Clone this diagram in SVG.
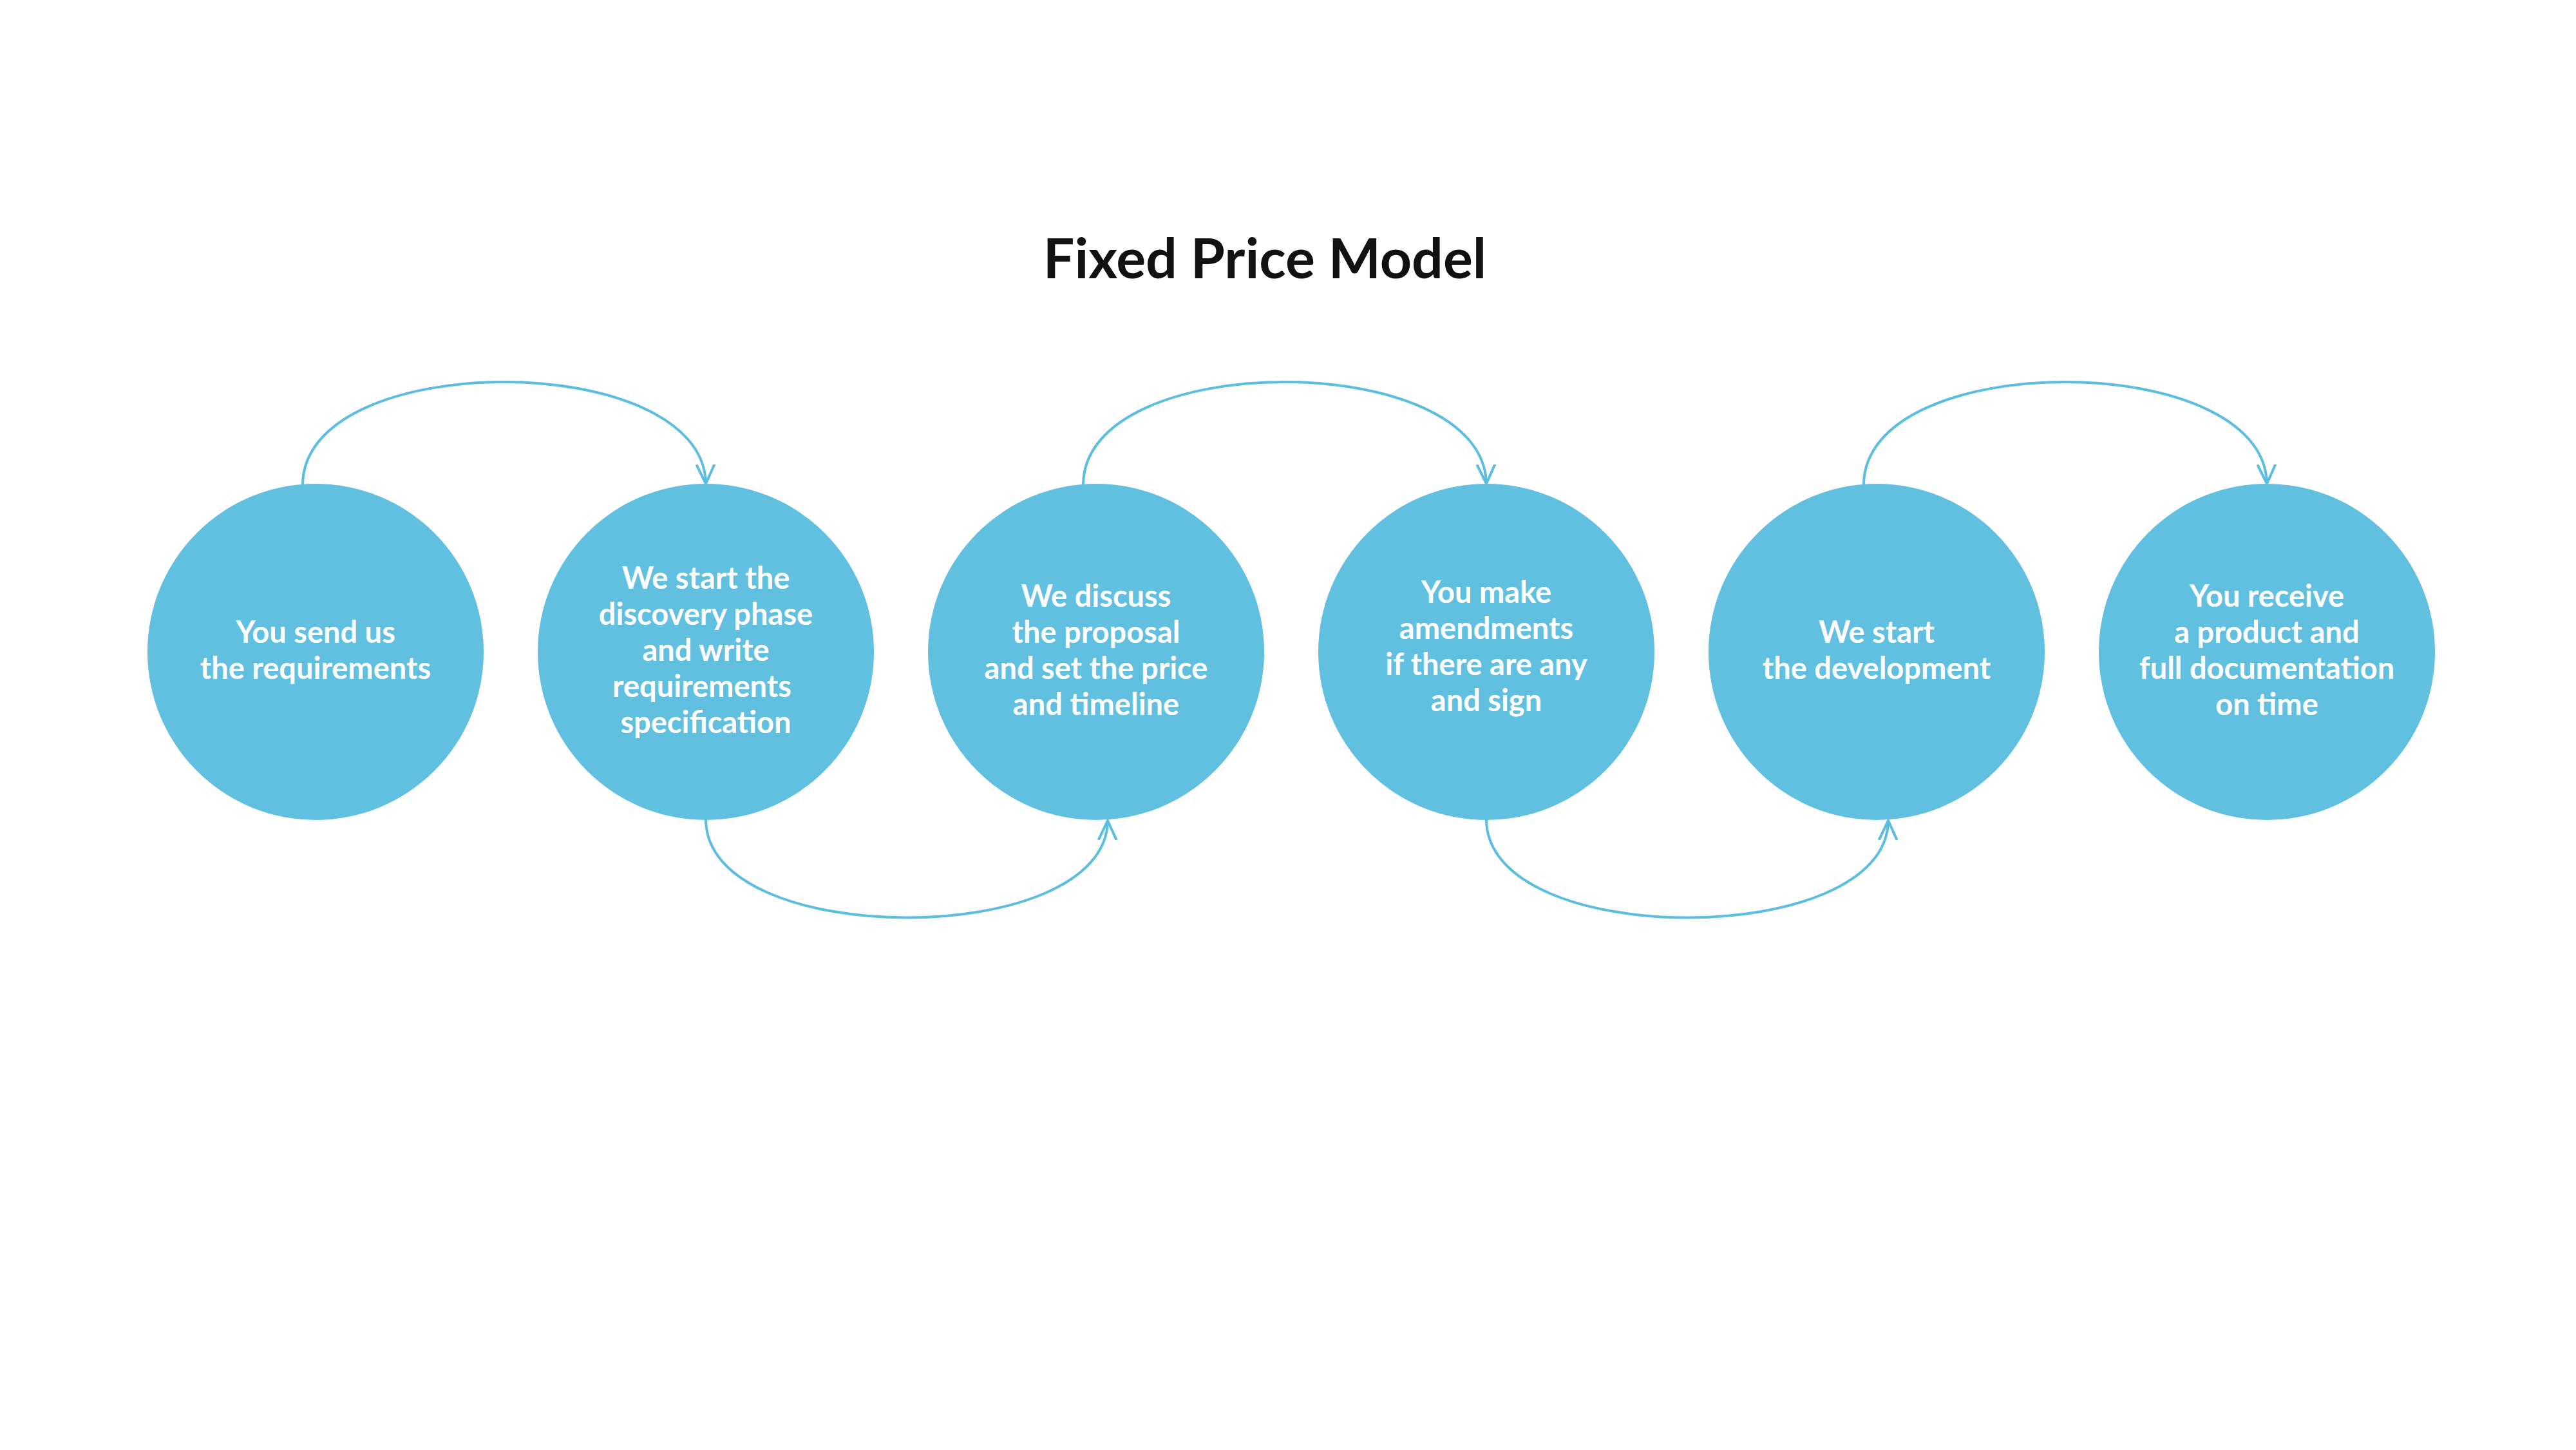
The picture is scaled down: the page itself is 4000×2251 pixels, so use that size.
<svg xmlns="http://www.w3.org/2000/svg" width="4000" height="2251" viewBox="0 0 4000 2251">
<style>
.c{fill:#61c0e0}
.t{fill:#fff;font-family:Lato,"Noto Sans",sans-serif;font-weight:700;font-size:47px;text-anchor:middle}
.a{fill:none;stroke:#5bbde0;stroke-width:4}
</style>
<defs><marker id="m" markerUnits="userSpaceOnUse" markerWidth="60" markerHeight="60" viewBox="-30 -30 60 60" refX="0" refY="0" orient="auto"><path d="M-30,-14 L0,0 L-30,14" fill="none" stroke="#5bbde0" stroke-width="4"/></marker></defs>
<rect width="4000" height="2251" fill="#fff"/>
<text x="1964" y="432" font-family="Lato,'Noto Sans',sans-serif" font-weight="700" font-size="86" text-anchor="middle" fill="#111">Fixed Price Model</text>
<g id="connectors">
<path class="a" marker-end="url(#m)" d="M470 753 C470 540,1092 540,1096 751"/>
<path class="a" marker-end="url(#m)" d="M1682 753 C1682 540,2304 540,2308 751"/>
<path class="a" marker-end="url(#m)" d="M2894 753 C2894 540,3516 540,3520 751"/>
<path class="a" marker-end="url(#m)" d="M1096 1272 C1096 1475,1718 1475,1720 1274"/>
<path class="a" marker-end="url(#m)" d="M2308 1272 C2308 1475,2930 1475,2932 1274"/>
</g>
<g id="n1"><circle class="c" cx="490" cy="1012" r="261"/><text class="t"><tspan x="490" y="998">You send us</tspan><tspan x="490" y="1054">the requirements</tspan></text></g>
<g id="n2"><circle class="c" cx="1096" cy="1012" r="261"/><text class="t"><tspan x="1096" y="914">We start the</tspan><tspan x="1096" y="970">discovery phase</tspan><tspan x="1096" y="1026">and write</tspan><tspan x="1090" y="1082">requirements</tspan><tspan x="1096" y="1138">specification</tspan></text></g>
<g id="n3"><circle class="c" cx="1702" cy="1012" r="261"/><text class="t"><tspan x="1702" y="942">We discuss</tspan><tspan x="1702" y="998">the proposal</tspan><tspan x="1702" y="1054">and set the price</tspan><tspan x="1702" y="1110">and timeline</tspan></text></g>
<g id="n4"><circle class="c" cx="2308" cy="1012" r="261"/><text class="t"><tspan x="2308" y="936">You make</tspan><tspan x="2308" y="992">amendments</tspan><tspan x="2308" y="1048">if there are any</tspan><tspan x="2308" y="1104">and sign</tspan></text></g>
<g id="n5"><circle class="c" cx="2914" cy="1012" r="261"/><text class="t"><tspan x="2914" y="998">We start</tspan><tspan x="2914" y="1054">the development</tspan></text></g>
<g id="n6"><circle class="c" cx="3520" cy="1012" r="261"/><text class="t"><tspan x="3520" y="942">You receive</tspan><tspan x="3520" y="998">a product and</tspan><tspan x="3520" y="1054">full documentation</tspan><tspan x="3520" y="1110">on time</tspan></text></g>
</svg>
